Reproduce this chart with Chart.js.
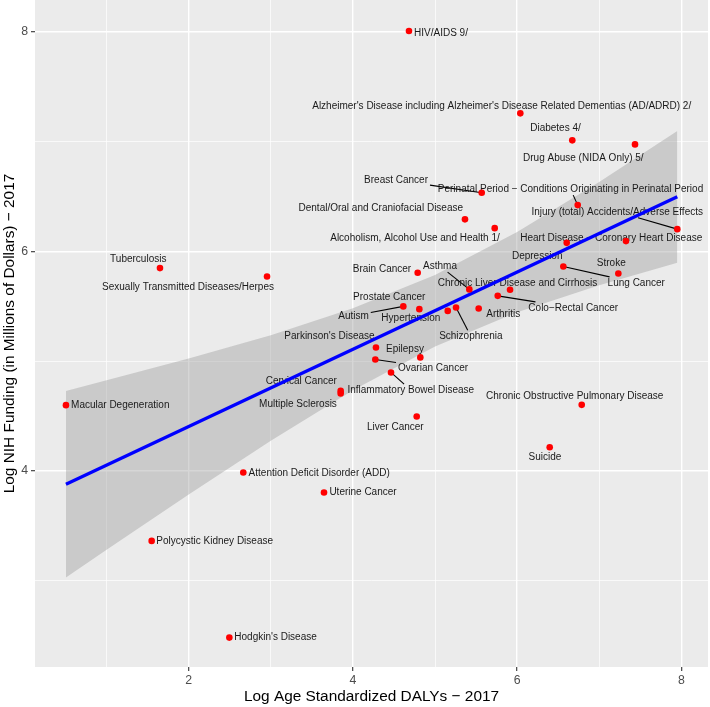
<!DOCTYPE html>
<html>
<head>
<meta charset="utf-8">
<script src="https://cdn.jsdelivr.net/npm/chart.js@4"></script>
<style>
  body{margin:0;background:#fff;}
  #wrap{width:710px;height:707px;}
</style>
</head>
<body>
<div id="wrap"><canvas id="myChart" width="710" height="707"></canvas></div>
<script>
// categories and values (log scale units)
const diseases=[
 "HIV/AIDS 9/",
 "Alzheimer's Disease including Alzheimer's Disease Related Dementias (AD/ADRD) 2/",
 "Diabetes 4/",
 "Drug Abuse (NIDA Only) 5/",
 "Breast Cancer",
 "Perinatal Period \u2212 Conditions Originating in Perinatal Period",
 "Dental/Oral and Craniofacial Disease",
 "Alcoholism, Alcohol Use and Health 1/",
 "Injury (total) Accidents/Adverse Effects",
 "Depression",
 "Heart Disease \u2212 Coronary Heart Disease",
 "Lung Cancer",
 "Stroke",
 "Brain Cancer",
 "Asthma",
 "Chronic Liver Disease and Cirrhosis",
 "Colo\u2212Rectal Cancer",
 "Autism",
 "Prostate Cancer",
 "Hypertension",
 "Schizophrenia",
 "Arthritis",
 "Parkinson's Disease",
 "Epilepsy",
 "Ovarian Cancer",
 "Inflammatory Bowel Disease",
 "Cervical Cancer",
 "Multiple Sclerosis",
 "Macular Degeneration",
 "Tuberculosis",
 "Sexually Transmitted Diseases/Herpes",
 "Liver Cancer",
 "Chronic Obstructive Pulmonary Disease",
 "Suicide",
 "Attention Deficit Disorder (ADD)",
 "Uterine Cancer",
 "Polycystic Kidney Disease",
 "Hodgkin's Disease"
];
const dalys=[4.683,6.039,6.672,7.436,5.569,6.738,5.365,5.727,7.951,6.604,7.326,6.563,7.233,4.789,5.418,5.914,5.764,4.614,4.809,5.155,5.256,5.532,4.281,4.821,4.273,4.464,3.851,3.851,0.505,1.650,2.954,4.777,6.787,6.397,2.665,3.648,1.549,2.495];
const funding=[8.009,7.259,7.013,6.976,6.535,6.423,6.293,6.213,6.204,6.079,6.095,5.864,5.800,5.806,5.655,5.651,5.596,5.500,5.475,5.459,5.490,5.481,5.126,5.035,5.016,4.898,4.730,4.707,4.600,5.849,5.773,4.497,4.603,4.217,3.986,3.804,3.363,2.482];

// fitted line and its confidence band
const fitX=[0.505,7.951];
const fitY=[3.880,6.499];
const bandX=[0.505,1,2,3,4,5,6,7,7.951];
const bandUpper=[4.730,4.826,5.025,5.238,5.482,5.786,6.178,6.633,7.098];
const bandLower=[3.030,3.282,3.787,4.276,4.736,5.134,5.446,5.693,5.898];

// axis ticks
const xMajor=[2,4,6,8];
const xMinor=[1,3,5,7];
const yMajor=[4,6,8];
const yMinor=[3,5,7];
const xTickLabels=["2","4","6","8"];
const yTickLabels=["4","6","8"];

// label placement (pixel offset from point, connector line)
const labelLayout=[
 [32,2,0],[-18.6,-7.3,0],[-16.8,-12,0],[-51.7,13.4,0],[-85.7,-12.7,1],
 [-7.2,-16,1],[-84.2,-11.3,0],[-79.7,10.5,0],[-60.1,-17.3,1],[-29.5,13.3,0],
 [-14.7,-2.7,0],[72.9,16.4,1],[-7.1,-10.6,0],[-35.7,-3.4,0],[-29.3,-23.3,1],
 [7.5,-6.4,0],[75.5,12,1],[-49.8,9.4,1],[-30.1,-11.7,0],[-36.9,7.6,0],
 [14.8,28.7,1],[24.5,6,0],[-46.5,-11.6,0],[-15.3,-8,0],[57.7,8.4,1],
 [19.8,17.7,1],[-39.4,-9.7,0],[-42.7,10.4,0],[54.3,0.3,0],[-21.7,-9.3,0],
 [-79,10.4,0],[-21.4,10.4,0],[-7,-8.4,0],[-4.7,9.7,0],[75.9,0.4,0],
 [39,0,0],[63,0,0],[46.2,0,0]
];

const points=dalys.map((x,i)=>({x:x,y:funding[i]}));
const fitLine=fitX.map((x,i)=>({x:x,y:fitY[i]}));
const upper=bandX.map((x,i)=>({x:x,y:bandUpper[i]}));
const lower=bandX.map((x,i)=>({x:x,y:bandLower[i]}));

const panelBg={
  id:"panelBg",
  beforeDraw(chart){
    const {ctx,chartArea:a}=chart;
    ctx.save();
    ctx.fillStyle="#EBEBEB";
    ctx.fillRect(a.left,a.top,a.right-a.left,a.bottom-a.top);
    ctx.restore();
  }
};

// text labels go over the band but under the fit line and the points
const repelLabels={
  id:"repelLabels",
  afterDatasetDraw(chart,args){
    if(args.index!==2) return;
    const ctx=chart.ctx;
    const xs=chart.scales.x, ys=chart.scales.y;
    ctx.save();
    ctx.font="10px 'Liberation Sans', Arial, sans-serif";
    ctx.textAlign="center";
    ctx.textBaseline="middle";
    diseases.forEach((name,i)=>{
      const px=xs.getPixelForValue(dalys[i]);
      const py=ys.getPixelForValue(funding[i]);
      const l=labelLayout[i];
      const cx=px+l[0], cy=py+l[1];
      if(l[2]){
        const hw=ctx.measureText(name).width/2+2, hh=6;
        const dx=px-cx, dy=py-cy;
        let t=Math.min(dx!==0?hw/Math.abs(dx):1e9, dy!==0?hh/Math.abs(dy):1e9);
        if(t<1){
          ctx.strokeStyle="#000";
          ctx.lineWidth=1.1;
          ctx.beginPath();
          ctx.moveTo(cx+dx*t,cy+dy*t);
          ctx.lineTo(px,py);
          ctx.stroke();
        }
      }
      ctx.fillStyle="#1a1a1a";
      ctx.fillText(name,cx,cy);
    });
    ctx.restore();
  }
};

function gridColor(major,minor){
  return c=>{
    const v=c.tick&&c.tick.value;
    return (major.includes(v)||minor.includes(v))?"#FFFFFF":"rgba(0,0,0,0)";
  };
}
function gridWidth(major){
  return c=>major.includes(c.tick&&c.tick.value)?1.4:0.7;
}
function tickColor(major){
  return c=>major.includes(c.tick&&c.tick.value)?"#333333":"rgba(0,0,0,0)";
}

const chart=new Chart(document.getElementById("myChart").getContext("2d"),{
  type:"scatter",
  data:{
    datasets:[
      {type:"scatter",data:points,backgroundColor:"#FF0000",borderWidth:0,pointRadius:3.3,order:0},
      {type:"line",data:fitLine,borderColor:"#0000FF",borderWidth:3.3,pointRadius:0,fill:false,order:1},
      {type:"line",data:upper,borderWidth:0,borderColor:"rgba(0,0,0,0)",pointRadius:0,
       backgroundColor:"rgba(153,153,153,0.4)",fill:"+1",order:2},
      {type:"line",data:lower,borderWidth:0,borderColor:"rgba(0,0,0,0)",pointRadius:0,fill:false,order:3}
    ]
  },
  options:{
    responsive:false,
    animation:false,
    devicePixelRatio:1,
    layout:{autoPadding:false,padding:{top:0,right:2,bottom:0,left:0}},
    plugins:{legend:{display:false},tooltip:{enabled:false}},
    scales:{
      x:{
        type:"linear",min:0.128,max:8.325,
        afterBuildTicks:s=>{s.ticks=xMinor.concat(xMajor).sort((a,b)=>a-b).map(v=>({value:v}));},
        afterFit:s=>{s.height=40;s.paddingLeft=0;s.paddingRight=0;},
        border:{display:false},
        grid:{color:gridColor(xMajor,xMinor),lineWidth:gridWidth(xMajor),
              tickColor:tickColor(xMajor),tickLength:4,tickWidth:1.1},
        ticks:{color:"#4D4D4D",font:{family:"'Liberation Sans', Arial",size:12.3},padding:2,
               maxRotation:0,autoSkip:false,
               callback:v=>{const k=xMajor.indexOf(v);return k>=0?xTickLabels[k]:"";}},
        title:{display:true,text:"Log Age Standardized DALYs \u2212 2017",color:"#000",
               font:{family:"'Liberation Sans', Arial",size:15.4},padding:{top:0,bottom:1}}
      },
      y:{
        type:"linear",min:2.214,max:8.292,
        afterBuildTicks:s=>{s.ticks=yMinor.concat(yMajor).sort((a,b)=>a-b).map(v=>({value:v}));},
        afterFit:s=>{s.width=35;s.paddingTop=0;s.paddingBottom=0;},
        border:{display:false},
        grid:{color:gridColor(yMajor,yMinor),lineWidth:gridWidth(yMajor),
              tickColor:tickColor(yMajor),tickLength:4,tickWidth:1.1},
        ticks:{color:"#4D4D4D",font:{family:"'Liberation Sans', Arial",size:12.3},padding:3,
               autoSkip:false,
               callback:v=>{const k=yMajor.indexOf(v);return k>=0?yTickLabels[k]:"";}},
        title:{display:true,text:"Log NIH Funding (in Millions of Dollars) \u2212 2017",color:"#000",
               font:{family:"'Liberation Sans', Arial",size:15.4},padding:{top:1,bottom:0}}
      }
    }
  },
  plugins:[panelBg,repelLabels]
});
</script>
</body>
</html>
